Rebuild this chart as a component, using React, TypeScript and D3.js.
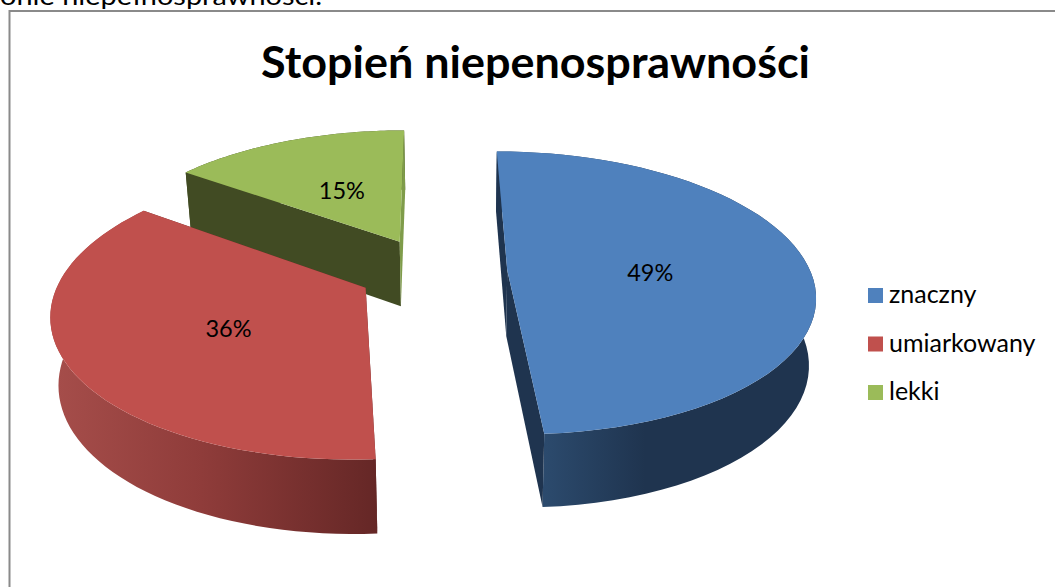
import React from "react";
import * as d3 from "d3";

const categories = ["znaczny", "umiarkowany", "lekki"];
const values = [49, 36, 15];
const percentLabels = ["49%", "36%", "15%"];
const topColors = ["#4f81bd", "#c0504d", "#9bbb59"];
const cutColors = ["#1f344f", "#652726", "#414b23"];
const chartTitle = "Stopień niepenosprawności";
const aboveText = "onie niepełnosprawności.";

const W = 1055, H = 587;
const cx = 432.5, cy = 271, A = 303, D = 138, persp = 0.162, explode = 0.247;
const FONT = "Lato, Carlito, sans-serif";

// ground-plane perspective projection. z=0 top face, z=1 bottom face
function project(X: number, Y: number, z = 0): [number, number] {
  const w = 1 + persp * Y;
  const sx = cx + (A * X) / w;
  const sy = cy - (D * Y) / w;
  if (!z) return [sx, sy];
  const depth = 66 / Math.pow(w, 0.6);
  return [sx - (sx - 459) * 0.02, sy + depth];
}

const arcs = d3.pie<number>().sort(null).startAngle(0).endAngle(2 * Math.PI)(values);
const line = d3.line();

function Slice({ i }: { i: number }) {
  const a = arcs[i];
  const mid = (a.startAngle + a.endAngle) / 2;
  const ox = explode * Math.sin(mid), oy = explode * Math.cos(mid);
  const at = (t: number, r: number, z = 0) =>
    project(ox + r * Math.sin(t), oy + r * Math.cos(t), z);
  const ts = d3.range(0, 61).map((k) => a.startAngle + ((a.endAngle - a.startAngle) * k) / 60);
  const top = [at(0, 0), ...ts.map((t) => at(t, 1))];
  const wall = [...ts.map((t) => at(t, 1)), ...ts.slice().reverse().map((t) => at(t, 1, 1))];
  const cut = (t: number) => [at(0, 0), at(t, 1), at(t, 1, 1), at(0, 0, 1)] as [number, number][];
  return (
    <g>
      <path d={line(wall as [number, number][])! + "Z"} fill={`url(#wall${i})`} />
      <path d={line(cut(a.startAngle))! + "Z"} fill={cutColors[i]} />
      <path d={line(cut(a.endAngle))! + "Z"} fill={i === 2 ? "#7f9c4a" : cutColors[i]} />
      <path d={line(top as [number, number][])! + "Z"} fill={topColors[i]} />
    </g>
  );
}

const labelRadius = 0.715;
const labelNudge: [number, number][] = [[2, 4], [-3, 7], [-1.5, -1]];

function label(i: number): [number, number] {
  const a = arcs[i];
  const mid = (a.startAngle + a.endAngle) / 2;
  const [x, y] = project(labelRadius * Math.sin(mid), labelRadius * Math.cos(mid));
  return [x + labelNudge[i][0], y + labelNudge[i][1]];
}

const legendY = d3.scalePoint<string>().domain(categories).range([295.5, 392.5]);

export default function App() {
  return (
    <svg
      width={W}
      height={H}
      viewBox={`0 0 ${W} ${H}`}
      style={{ position: "absolute", left: 0, top: 0, display: "block", background: "#fff" }}
    >
      <defs>
        <linearGradient id="wall0" gradientUnits="userSpaceOnUse" x1="541" x2="645" y1="0" y2="0">
          <stop offset="0" stopColor="#2c4b6e" />
          <stop offset="1" stopColor="#1f344f" />
        </linearGradient>
        <linearGradient id="wall1" gradientUnits="userSpaceOnUse" x1="58" x2="377" y1="0" y2="0">
          <stop offset="0" stopColor="#a54d4a" />
          <stop offset="0.45" stopColor="#8f3c3a" />
          <stop offset="1" stopColor="#652726" />
        </linearGradient>
        <linearGradient id="wall2" gradientUnits="userSpaceOnUse" x1="186" x2="403" y1="0" y2="0">
          <stop offset="0" stopColor="#414b23" />
          <stop offset="1" stopColor="#414b23" />
        </linearGradient>
      </defs>

      <text x={0} y={5} fontFamily={FONT} fontSize={25} textLength={322} lengthAdjust="spacingAndGlyphs" fill="#000">
        {aboveText}
      </text>

      <rect x={9.5} y={11} width={1060} height={600} fill="#fff" stroke="#8a8a8a" strokeWidth={2} />

      <text
        x={535.5}
        y={78}
        textAnchor="middle"
        fontFamily={FONT}
        fontWeight={700}
        fontSize={44}
        textLength={549}
        lengthAdjust="spacingAndGlyphs"
        fill="#000"
      >
        {chartTitle}
      </text>

      {[2, 1, 0].map((i) => (
        <Slice key={categories[i]} i={i} />
      ))}

      {percentLabels.map((t, i) => {
        const [x, y] = label(i);
        return (
          <text key={t} x={x} y={y} textAnchor="middle" dominantBaseline="central" fontFamily={FONT} fontSize={23.5} fill="#000">
            {t}
          </text>
        );
      })}

      {categories.map((c, i) => (
        <g key={c}>
          <rect x={868} y={legendY(c)! - 7.5} width={15} height={15} fill={topColors[i]} />
          <text x={889} y={legendY(c)! + 7.5} fontFamily={FONT} fontSize={25} fill="#000">
            {c}
          </text>
        </g>
      ))}
    </svg>
  );
}
